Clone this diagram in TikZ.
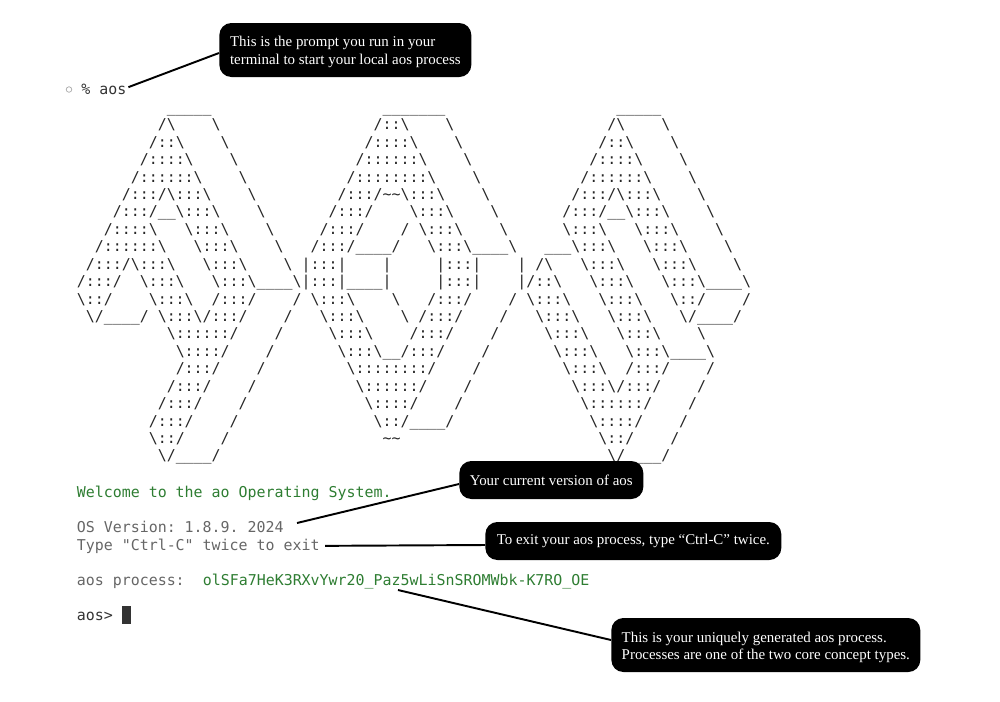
\documentclass[tikz,border=0pt]{standalone}
\usepackage{fontspec}
\setmainfont{Liberation Serif}
\setmonofont{DejaVu Sans Mono}
\definecolor{termgreen}{HTML}{2E7D32}
\definecolor{termgrey}{HTML}{666666}
\definecolor{termdark}{HTML}{333333}
\newcommand{\termfont}{\ttfamily\fontsize{8.5}{9.92}\selectfont\frenchspacing}
\newcommand{\artnl}{\\}
\begingroup
\catcode`\ =13\relax\gdef {\ }%
\catcode`\!=0\catcode`\_=12\catcode`\~=12\catcode`\\=12!relax%
!gdef!aoslogo{%
          _____                   _______                   _____!artnl%
         /\    \                 /::\    \                 /\    \!artnl%
        /::\    \               /::::\    \               /::\    \!artnl%
       /::::\    \             /::::::\    \             /::::\    \!artnl%
      /::::::\    \           /::::::::\    \           /::::::\    \!artnl%
     /:::/\:::\    \         /:::/~~\:::\    \         /:::/\:::\    \!artnl%
    /:::/__\:::\    \       /:::/    \:::\    \       /:::/__\:::\    \!artnl%
   /::::\   \:::\    \     /:::/    / \:::\    \      \:::\   \:::\    \!artnl%
  /::::::\   \:::\    \   /:::/____/   \:::\____\   ___\:::\   \:::\    \!artnl%
 /:::/\:::\   \:::\    \ |:::|    |     |:::|    | /\   \:::\   \:::\    \!artnl%
/:::/  \:::\   \:::\____\|:::|____|     |:::|    |/::\   \:::\   \:::\____\!artnl%
\::/    \:::\  /:::/    / \:::\    \   /:::/    / \:::\   \:::\   \::/    /!artnl%
 \/____/ \:::\/:::/    /   \:::\    \ /:::/    /   \:::\   \:::\   \/____/!artnl%
          \::::::/    /     \:::\    /:::/    /     \:::\   \:::\    \!artnl%
           \::::/    /       \:::\__/:::/    /       \:::\   \:::\____\!artnl%
           /:::/    /         \::::::::/    /         \:::\  /:::/    /!artnl%
          /:::/    /           \::::::/    /           \:::\/:::/    /!artnl%
         /:::/    /             \::::/    /             \::::::/    /!artnl%
        /:::/    /               \::/____/               \::::/    /!artnl%
        \::/    /                 ~~                      \::/    /!artnl%
         \/____/                                           \/____/}%
!gdef!processid{olSFa7HeK3RXvYwr20_Paz5wLiSnSROMWbk-K7RO_OE}%
!endgroup
\tikzset{
  termtext/.style={anchor=base west,inner sep=0pt,font=\termfont},
  callout/.style={anchor=west,fill=black,text=white,rounded corners=0.24cm,align=left,
    inner xsep=0.2cm,inner ysep=0pt,font=\fontsize{8.5}{10.2}\selectfont},
  callline/.style={draw=black,line width=1.1pt}
}
\begin{document}
\begin{tikzpicture}[x=0.02cm,y=-0.02cm]
\useasboundingbox (0,0) rectangle (1000,701);
% prompt line
\node[draw=gray!70,circle,inner sep=0pt,minimum size=0.11cm] (dot) at (69,89.5) {};
\node[termtext,text=termdark] (prompt) at (81,94) {\% aos};
% logo
\node[anchor=north west,inner sep=0pt,align=left,font=\termfont,text=black!85] (logo) at (76.5,112) {\aoslogo};
% terminal output
\node[termtext,text=termgreen] (welcome) at (76.5,497) {Welcome to the ao Operating System.};
\node[termtext,text=termgrey] (osver) at (76.5,532) {OS Version: 1.8.9. 2024};
\node[termtext,text=termgrey] (typeexit) at (76.5,550) {Type "Ctrl-C" twice to exit};
\node[termtext,text=termgrey] (aosproc) at (76.5,585) {aos process:};
\node[termtext,text=termgreen] (procid) at (202.5,585) {\processid};
\node[termtext,text=termdark] (aosprompt) at (76.5,620) {aos>};
\node[anchor=west,fill=termdark,inner sep=0pt,minimum width=0.18cm,minimum height=0.36cm] (cursor) at (122,615) {};
% callouts
\node[callout,minimum width=5.04cm,minimum height=1.08cm] (promptnote) at (219,50) {\rule{0pt}{8.6pt}This is the prompt you run in your\\terminal to start your local aos process};
\node[callout,minimum width=3.68cm,minimum height=0.76cm] (versionnote) at (459,480) {Your current version of aos};
\node[callout,minimum width=5.92cm,minimum height=0.76cm] (exitnote) at (485,541) {To exit your aos process, type “Ctrl-C” twice.};
\node[callout,minimum width=6.18cm,minimum height=1.08cm] (processnote) at (611,645) {\rule{0pt}{8.6pt}This is your uniquely generated aos process.\\Processes are one of the two core concept types.};
\coordinate (verend) at (297,523);
\coordinate (procend) at (398,590);
\draw[callline] ([xshift=1pt,yshift=1pt]prompt.east) -- ([yshift=-0.06cm]promptnote.west);
\draw[callline] (verend) -- ([yshift=-0.08cm]versionnote.west);
\draw[callline] ([xshift=3pt]typeexit.east) -- ([yshift=-0.08cm]exitnote.west);
\draw[callline] (procend) -- ([yshift=0.1cm]processnote.west);
\end{tikzpicture}
\end{document}
